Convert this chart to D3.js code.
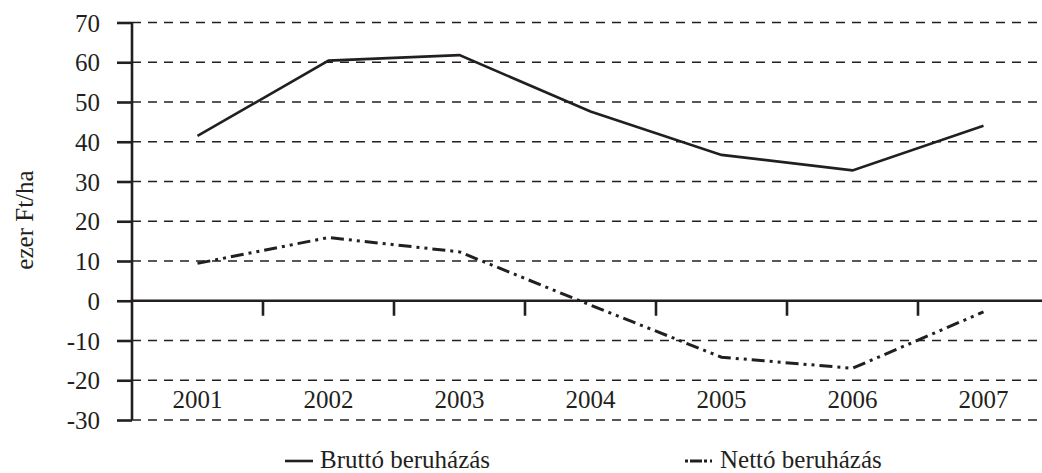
<!DOCTYPE html>
<html>
<head>
<meta charset="utf-8">
<script src="https://cdn.jsdelivr.net/npm/d3@7"></script>
<style>
  body { margin: 0; background: #fff; }
  svg { display: block; }
  svg text { font-family: "Liberation Serif", "Times New Roman", "DejaVu Serif", serif; }
</style>
</head>
<body>
<div id="chart"></div>
<script>
var years = ["2001", "2002", "2003", "2004", "2005", "2006", "2007"];
var brutto = [41.5, 60.4, 61.8, 47.6, 36.7, 32.8, 44.0];
var netto = [9.4, 15.9, 12.3, -1.1, -14.2, -17.0, -2.8];
var yTicks = [-30, -20, -10, 0, 10, 20, 30, 40, 50, 60, 70];
var seriesNames = ["Bruttó beruházás", "Nettó beruházás"];

var width = 1042,
	height = 473;

var ink = "#231f20";
var serif = "'Liberation Serif', 'Times New Roman', serif";

var svg = d3.select("#chart").append("svg")
	.attr("width", width)
	.attr("height", height);

var xScale = d3.scaleBand()
	.domain(years)
	.range([132, 1049]);

var yScale = d3.scaleLinear()
	.domain([-30, 70])
	.range([420, 22.5]);

// dashed gridlines (zero is drawn as the solid axis)
svg.append("g").selectAll("line")
	.data(yTicks.filter(function(d){ return d !== 0; }))
	.enter().append("line")
		.attr("x1", 132)
		.attr("x2", 1038)
		.attr("y1", function(d){ return yScale(d); })
		.attr("y2", function(d){ return yScale(d); })
		.attr("stroke", ink)
		.attr("stroke-width", 1.4)
		.attr("stroke-dasharray", "9,7");

// y axis
var yAxis = d3.axisLeft(yScale)
	.tickValues(yTicks)
	.tickSize(15)
	.tickPadding(17)
	.tickFormat(function(d){ return String(d); });

var gy = svg.append("g")
	.attr("transform", "translate(132,0)")
	.call(yAxis)
	.attr("font-family", serif);
gy.select(".domain")
	.attr("d", "M0," + yScale(-30) + "V" + yScale(70))
	.attr("stroke", ink)
	.attr("stroke-width", 2.6);
gy.selectAll(".tick line")
	.attr("stroke", ink)
	.attr("stroke-width", 2.6);
gy.selectAll(".tick text")
	.attr("font-size", 25)
	.attr("font-family", serif)
	.attr("fill", ink)
	.attr("dy", "0.34em");

// zero line (category axis)
svg.append("line")
	.attr("x1", 132)
	.attr("x2", width)
	.attr("y1", yScale(0))
	.attr("y2", yScale(0))
	.attr("stroke", ink)
	.attr("stroke-width", 2.6);

// category ticks at band boundaries
svg.append("g").selectAll("line")
	.data(years.slice(1))
	.enter().append("line")
		.attr("x1", function(d){ return xScale(d); })
		.attr("x2", function(d){ return xScale(d); })
		.attr("y1", yScale(0))
		.attr("y2", yScale(0) + 15)
		.attr("stroke", ink)
		.attr("stroke-width", 2.6);

// category labels at the bottom
svg.append("g").selectAll("text")
	.data(years)
	.enter().append("text")
		.attr("x", function(d){ return xScale(d) + xScale.bandwidth() / 2; })
		.attr("y", 408)
		.attr("text-anchor", "middle")
		.attr("font-family", serif)
		.attr("font-size", 25)
		.attr("fill", ink)
		.text(function(d){ return d; });

// y axis title
svg.append("text")
	.attr("transform", "translate(33,220) rotate(-90)")
	.attr("text-anchor", "middle")
	.attr("font-family", serif)
	.attr("font-size", 25)
	.attr("fill", ink)
	.text("ezer Ft/ha");

var line = d3.line()
	.x(function(d, i){ return xScale(years[i]) + xScale.bandwidth() / 2; })
	.y(function(d){ return yScale(d); });

svg.append("path")
	.datum(brutto)
	.attr("d", line)
	.attr("fill", "none")
	.attr("stroke", ink)
	.attr("stroke-width", 2.6);

svg.append("path")
	.datum(netto)
	.attr("d", line)
	.attr("fill", "none")
	.attr("stroke", ink)
	.attr("stroke-width", 3)
	.attr("stroke-dasharray", "13,5,3,5,3,5");

// legend
var legend = svg.append("g");
var legendX = [285, 685];
var legendDash = [null, "3,2,12,2,3"];

seriesNames.forEach(function(name, i){
	legend.append("line")
		.attr("x1", legendX[i])
		.attr("x2", legendX[i] + 28)
		.attr("y1", 461)
		.attr("y2", 461)
		.attr("stroke", ink)
		.attr("stroke-width", i === 0 ? 2.6 : 3)
		.attr("stroke-dasharray", legendDash[i]);
	legend.append("text")
		.attr("x", legendX[i] + 35)
		.attr("y", 468)
		.attr("font-family", serif)
		.attr("font-size", 25)
		.attr("fill", ink)
		.text(name);
});
</script>
</body>
</html>
